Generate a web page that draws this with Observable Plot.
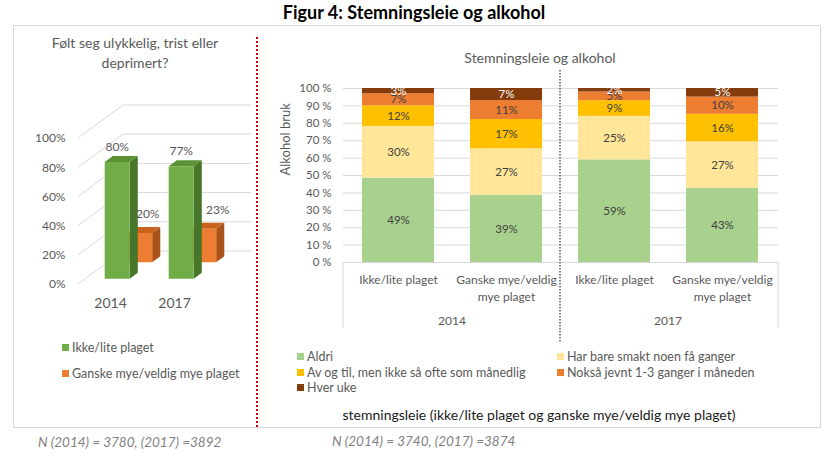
<!DOCTYPE html>
<html><head><meta charset="utf-8">
<script src="https://cdn.jsdelivr.net/npm/d3@7"></script>
<script src="https://cdn.jsdelivr.net/npm/@observablehq/plot@0.6"></script>
<style>
html,body{margin:0;padding:0;background:#fff;}
#root{position:relative;width:829px;height:457px;overflow:hidden;font-family:Lato,"Open Sans",sans-serif;color:#595959;}
.abs{position:absolute;}
.nw{white-space:nowrap;}
.sw{display:inline-block;width:7px;height:7px;margin-right:3px;vertical-align:middle;position:relative;top:-1px;}
</style></head><body><div id="root"></div>
<script>
// ---------- data ----------
const figTitle = "Figur 4: Stemningsleie og alkohol";

// left chart
const leftTitle = ["Følt seg ulykkelig, trist eller", "deprimert?"];
const leftYears = ["2014", "2017"];
const leftSeries = ["Ikke/lite plaget", "Ganske mye/veldig mye plaget"];
const ikkeLitePlaget = [80, 77];
const ganskeMyePlaget = [20, 23];
const leftTicks = [0, 20, 40, 60, 80, 100];
const leftNote = "N (2014) = 3780, (2017) =3892";

// right chart
const rightTitle = "Stemningsleie og alkohol";
const years = ["2014", "2017"];
const groups = ["Ikke/lite plaget", "Ganske mye/veldig mye plaget"];
const groupLabels = ["Ikke/lite plaget", "Ganske mye/veldig\nmye plaget"];
const levels = ["Aldri", "Har bare smakt noen få ganger", "Av og til, men ikke så ofte som månedlig", "Nokså jevnt 1-3 ganger i måneden", "Hver uke"];
const aldri        = [49, 39, 59, 43];
const harBareSmakt = [30, 27, 25, 27];
const avOgTil      = [12, 17, 9, 16];
const noksaJevnt   = [7, 11, 5, 10];
const hverUke      = [3, 7, 2, 5];
const rightTicks = [0, 10, 20, 30, 40, 50, 60, 70, 80, 90, 100];
const yLabel = "Alkohol bruk";
const xTitle = "stemningsleie (ikke/lite plaget og ganske mye/veldig mye plaget)";
const rightNote = "N (2014) = 3740, (2017) =3874";

// ---------- styles ----------
const levelColors = ["#a9d18e", "#ffe699", "#ffc000", "#ed7d31", "#843c0c"];
const leftColors = [
  {front: "#70ad47", top: "#5b9236", side: "#477529"},
  {front: "#ed7d31", top: "#c8631e", side: "#a9521a"}
];

const root = document.getElementById("root");
function addDiv(html, css) {
  const d = document.createElement("div");
  d.className = "abs nw";
  d.innerHTML = html;
  Object.assign(d.style, css);
  root.appendChild(d);
  return d;
}

// frame box and red dotted separator
addDiv("", {left: "13px", top: "25px", width: "806px", height: "401px", border: "1px solid #d9d9d9"});
addDiv("", {left: "256px", top: "37px", width: "0px", height: "390px", borderLeft: "2px dotted #c00000"});

// ---------- left chart (3D columns) ----------
const leftRows = leftYears.flatMap((yr, i) => [
  {year: yr, s: 0, value: ikkeLitePlaget[i]},
  {year: yr, s: 1, value: ganskeMyePlaget[i]}
]);

function bars3d(index, scales, values, dims) {
  const {x, y} = scales;
  const g = d3.create("svg:g");
  const X0 = dims.marginLeft, X1 = dims.width - dims.marginRight;
  const DX = 45, DY = -33;               // floor depth projection
  const rowsDepth = [0.25, 0.75], thick = 0.18;
  // perspective gridlines
  for (const t of leftTicks) {
    const yy = y(t);
    g.append("polyline")
      .attr("points", [[X0, yy], [X0 + DX, yy + DY], [X1 + DX, yy + DY]].map(p => p.join(",")).join(" "))
      .attr("fill", "none").attr("stroke", "#d9d9d9").attr("stroke-width", 1);
  }
  const bw = x.bandwidth();
  const w = bw * 0.39;
  const order = [...leftRows].sort((a, b) => b.s - a.s);
  const labels = [];
  for (const d of order) {
    const c = leftColors[d.s];
    const d0 = rowsDepth[d.s] - thick / 2, d1 = rowsDepth[d.s] + thick / 2;
    const ox0 = DX * d0, oy0 = DY * d0, ox1 = DX * d1, oy1 = DY * d1;
    const cx = x(d.year) + bw / 2;
    const xa = cx - w / 2, xb = cx + w / 2;
    const yv = y(d.value), yz = y(0);
    const poly = (pts, fill) => g.append("polygon").attr("points", pts.map(p => p.join(",")).join(" ")).attr("fill", fill);
    poly([[xb + ox0, yv + oy0], [xb + ox1, yv + oy1], [xb + ox1, yz + oy1], [xb + ox0, yz + oy0]], c.side);
    poly([[xa + ox0, yv + oy0], [xb + ox0, yv + oy0], [xb + ox1, yv + oy1], [xa + ox1, yv + oy1]], c.top);
    poly([[xa + ox0, yv + oy0], [xb + ox0, yv + oy0], [xb + ox0, yz + oy0], [xa + ox0, yz + oy0]], c.front);
    labels.push({x: cx + ox0 + (d.s ? 8 + (d.year === leftYears[1] ? 6 : 0) : 0), y: yv + oy1 - (d.s ? 12 : 8), text: d.value + "%"});
  }
  for (const l of labels) {
    g.append("text").attr("x", l.x).attr("y", l.y).attr("text-anchor", "middle")
      .attr("dominant-baseline", "middle").attr("fill", "#595959").attr("font-size", 12).text(l.text);
  }
  return g.node();
}

const left = Plot.plot({
  width: 260, height: 224,
  marginLeft: 78, marginRight: 54, marginTop: 48, marginBottom: 30,
  style: {fontFamily: "Lato, sans-serif", fontSize: "12px", color: "#595959", background: "transparent", overflow: "visible"},
  x: {type: "band", domain: leftYears, padding: 0},
  y: {domain: [0, 100]},
  marks: [
    Plot.barY(leftRows, {x: "year", y: "value", fillOpacity: 0}),
    Plot.axisY({ticks: leftTicks, tickSize: 0, tickPadding: 13, tickFormat: d => d + "%", label: null, fontSize: 12}),
    Plot.axisX({tickSize: 0, tickPadding: 14, label: null, fontSize: 14}),
    bars3d
  ]
});
Object.assign(left.style, {position: "absolute", left: "0px", top: "90px"});
root.appendChild(left);

// left title & legend
addDiv(leftTitle.join("<br>"), {left: "13px", top: "33px", width: "244px", textAlign: "center", fontSize: "14px", lineHeight: "20px"});
leftSeries.forEach((s, i) => {
  addDiv(`<span class="sw" style="background:${leftColors[i].front}"></span>${s}`,
    {left: "62px", top: (340 + i * 26) + "px", fontSize: "12.5px", lineHeight: "16px"});
});
addDiv(leftNote, {left: "38px", top: "434px", fontSize: "13.5px", fontStyle: "italic", color: "#7f7f7f"});

// ---------- right chart (100% stacked) ----------
const keys = years.flatMap(yr => groups.map(gp => yr + "|" + gp));
const seriesVals = [aldri, harBareSmakt, avOgTil, noksaJevnt, hverUke];
const rows = [];
keys.forEach((k, i) => levels.forEach((lv, j) => rows.push({key: k, level: lv, value: seriesVals[j][i]})));

function groupDecor(index, scales, values, dims) {
  const {x, y} = scales;
  const g = d3.create("svg:g");
  const bw = x.bandwidth();
  const top = y(1), base = y(0);
  const L = dims.marginLeft, R = dims.width - dims.marginRight;
  // table lines of the multi-level axis
  for (const xx of [L, R]) {
    g.append("line").attr("x1", xx).attr("x2", xx).attr("y1", base).attr("y2", base + 66)
      .attr("stroke", "#d9d9d9");
  }
  // separator between year groups
  const sx = (x(keys[1]) + bw + x(keys[2])) / 2;
  g.append("line").attr("x1", sx).attr("x2", sx).attr("y1", top - 18).attr("y2", base + 80)
    .attr("stroke", "#595959").attr("stroke-width", 1.5).attr("stroke-dasharray", "1.5,1.5");
  // year labels
  years.forEach(yr => {
    const ks = keys.filter(k => k.startsWith(yr));
    const cx = (x(ks[0]) + x(ks[ks.length - 1]) + bw) / 2;
    g.append("text").attr("x", cx).attr("y", base + 60).attr("text-anchor", "middle")
      .attr("dominant-baseline", "middle").attr("fill", "#595959").attr("font-size", 12).text(yr);
  });
  return g.node();
}

const stackOpts = (extra) => Plot.stackY({offset: "normalize", x: "key", y: "value", z: "level", ...extra});
const right = Plot.plot({
  width: 530, height: 320,
  marginLeft: 73, marginRight: 22, marginTop: 58, marginBottom: 88,
  style: {fontFamily: "Lato, sans-serif", fontSize: "11.5px", color: "#595959", background: "transparent", overflow: "visible"},
  x: {type: "band", domain: keys, paddingInner: 0.33, paddingOuter: 0.165},
  y: {domain: [0, 1]},
  color: {domain: levels, range: levelColors},
  marks: [
    Plot.gridY({ticks: rightTicks.map(t => t / 100), stroke: "#d9d9d9", strokeOpacity: 1}),
    Plot.barY(rows, stackOpts({fill: "level"})),
    Plot.text(rows, stackOpts({text: d => d.level === levels[4] ? null : d.value + "%", fill: "#404040", fontSize: 11.5})),
    Plot.text(rows, stackOpts({text: d => d.level === levels[4] ? d.value + "%" : null, fill: "white", fontSize: 11.5})),
    Plot.axisY({ticks: rightTicks.map(t => t / 100), tickSize: 0, tickPadding: 12, tickFormat: d => Math.round(d * 100) + " %", label: null}),
    Plot.text([yLabel], {frameAnchor: "left", rotate: -90, dx: -58, fontSize: 13, fill: "#595959"}),
    Plot.axisX({tickSize: 0, tickPadding: 10, tickFormat: k => groupLabels[groups.indexOf(k.split("|")[1])], lineHeight: 1.4, label: null, fontSize: 12}),
    Plot.ruleY([0], {stroke: "#d9d9d9"}),
    groupDecor
  ]
});
Object.assign(right.style, {position: "absolute", left: "270px", top: "30px"});
root.appendChild(right);

// right title, legend, x title, note
addDiv(rightTitle, {left: "440px", top: "49px", width: "200px", textAlign: "center", fontSize: "14px", color: "#595959"});
const legendPos = [[297, 349], [557, 349], [297, 365], [557, 365], [297, 380]];
levels.forEach((lv, i) => {
  addDiv(`<span class="sw" style="background:${levelColors[i]}"></span>${lv}`,
    {left: legendPos[i][0] + "px", top: legendPos[i][1] + "px", fontSize: "12.5px", lineHeight: "15px"});
});
addDiv(xTitle, {left: "289px", top: "406px", width: "500px", textAlign: "center", fontSize: "14px", color: "#1a1a1a"});
addDiv(rightNote, {left: "332px", top: "433px", fontSize: "13.5px", fontStyle: "italic", color: "#7f7f7f"});

// figure title
addDiv(figTitle, {left: "214px", top: "1px", width: "400px", textAlign: "center", fontSize: "18px", fontWeight: "bold", color: "#000"});
</script>
</body></html>
